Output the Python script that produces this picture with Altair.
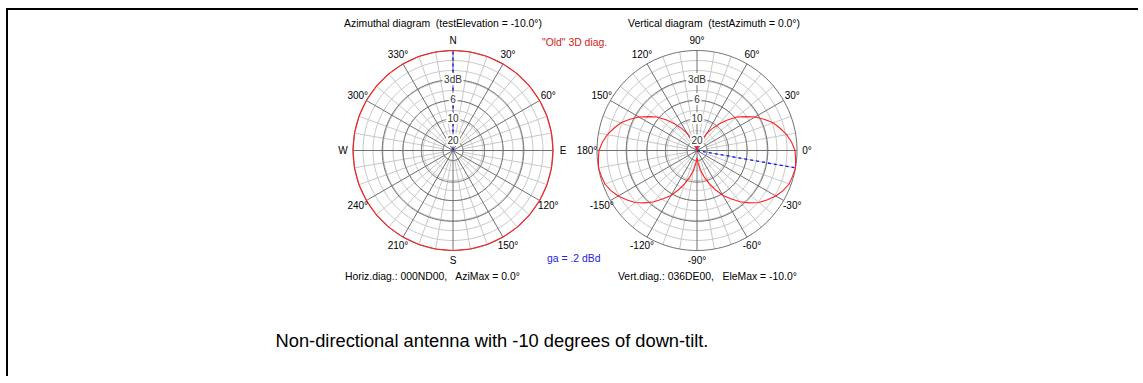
import math
import altair as alt
import pandas as pd

# ---- canvas and diagram geometry (pixels) ----
W, H = 1143, 376
R = 100.0                      # radius of the 0 dB ring
AZI_CX, AZI_CY = 453.0, 150.5  # azimuthal diagram centre
ELE_CX, ELE_CY = 697.0, 150.5  # vertical diagram centre
FONT = "Liberation Sans"
FRAME_RIGHT = 1138

# ---- diagram parameters ----
TEST_ELEVATION = -10.0
TEST_AZIMUTH = 0.0
AZI_MAX = 0.0
ELE_MAX = -10.0
GAIN_DBD = ".2"
HORIZ_CODE = "000ND00"
VERT_CODE = "036DE00"

# ---- grid ----
FINE_RINGS = [0.1, 0.2, 0.3, 0.4, 0.5, 0.6, 0.7, 0.8, 0.9]   # relative field strength
DB_RINGS = [0, 3, 6, 10, 20]                                  # dB below maximum
DB_RING_LABELS = ["", "3dB", "6", "10", "20"]
SPOKE_STEP = 10
MAJOR_SPOKE_STEP = 30
FINE_SPOKE_START = 0.1
RING_STEP_DEG = 2

# ---- azimuthal pattern (bearing deg, relative field strength) ----
AZI_DEG = [0, 10, 20, 30, 40, 50, 60, 70, 80, 90, 100, 110, 120, 130, 140, 150, 160, 170,
           180, 190, 200, 210, 220, 230, 240, 250, 260, 270, 280, 290, 300, 310, 320, 330,
           340, 350, 360]
AZI_REL = [1.0, 1.0, 1.0, 1.0, 1.0, 1.0, 1.0, 1.0, 1.0, 1.0, 1.0, 1.0, 1.0, 1.0, 1.0, 1.0,
           1.0, 1.0, 1.0, 1.0, 1.0, 1.0, 1.0, 1.0, 1.0, 1.0, 1.0, 1.0, 1.0, 1.0, 1.0, 1.0,
           1.0, 1.0, 1.0, 1.0, 1.0]

# ---- vertical pattern (angle deg counter-clockwise from 0°, relative field strength) ----
ELE_DEG = [-90, -85, -80, -75, -70, -65, -60, -55, -50, -45, -40, -35, -30, -25, -20, -15,
           -10, -5, 0, 5, 10, 15, 20, 25, 30, 35, 40, 45, 50, 55, 60, 65, 70, 75, 80, 85,
           90, 95, 100, 105, 110, 115, 120, 125, 130, 135, 140, 145, 150, 155, 160, 165,
           170, 175, 180, 185, 190, 195, 200, 205, 210, 215, 220, 225, 230, 235, 240, 245,
           250, 255, 260, 265, 270]
ELE_REL = [0.07, 0.13, 0.20, 0.27, 0.35, 0.43, 0.52, 0.59, 0.67, 0.74, 0.81, 0.86, 0.91,
           0.95, 0.98, 0.99, 1.00, 0.99, 0.98, 0.95, 0.91, 0.86, 0.81, 0.74, 0.67, 0.59,
           0.52, 0.43, 0.35, 0.27, 0.20, 0.13, 0.07, 0.03, 0.00, 0.05, 0.13, 0.05, 0.00,
           0.03, 0.07, 0.13, 0.20, 0.27, 0.35, 0.43, 0.52, 0.59, 0.67, 0.74, 0.81, 0.86,
           0.91, 0.95, 0.98, 0.99, 1.00, 0.99, 0.98, 0.95, 0.91, 0.86, 0.81, 0.74, 0.67,
           0.59, 0.52, 0.43, 0.35, 0.27, 0.20, 0.13, 0.07]

LIGHT = "#c8c8c8"
DARK = "#707070"
RED = "#ff2020"
BLUE = "#1010ff"


def azi_xy(bearing, r):
    a = math.radians(bearing)
    return AZI_CX + R * r * math.sin(a), AZI_CY - R * r * math.cos(a)


def ele_xy(angle, r):
    a = math.radians(angle)
    return ELE_CX + R * r * math.cos(a), ELE_CY - R * r * math.sin(a)


def db_to_rel(db):
    return 10 ** (-db / 20.0)


# rings, traced as closed polylines
ring_rows = []
rid = 0
for conv in (azi_xy, ele_xy):
    levels = [(a, "fine") for a in FINE_RINGS] + [(db_to_rel(d), "major") for d in DB_RINGS]
    for amp, kind in levels:
        for k, ang in enumerate(range(0, 361, RING_STEP_DEG)):
            x, y = conv(ang, amp)
            ring_rows.append({"x": x, "y": y, "i": k, "ring": rid, "kind": kind})
        rid += 1
rings = pd.DataFrame(ring_rows)

# spokes
spoke_rows = []
for conv in (azi_xy, ele_xy):
    for ang in range(0, 360, SPOKE_STEP):
        major = ang % MAJOR_SPOKE_STEP == 0
        r0 = 0.0 if major else FINE_SPOKE_START
        x1, y1 = conv(ang, r0)
        x2, y2 = conv(ang, 1.0)
        spoke_rows.append({"x": x1, "y": y1, "x2": x2, "y2": y2,
                           "kind": "major" if major else "fine"})
spokes = pd.DataFrame(spoke_rows)

# dB ring labels on the upward axis of each diagram
dbl_rows = []
for cx, cy in [(AZI_CX, AZI_CY), (ELE_CX, ELE_CY)]:
    for d, lab in zip(DB_RINGS, DB_RING_LABELS):
        if lab:
            dbl_rows.append({"x": cx, "y": cy - R * db_to_rel(d), "label": lab})
db_labels = pd.DataFrame(dbl_rows)

# angle labels
ang_rows = []
compass = {0: "N", 90: "E", 180: "S", 270: "W"}
for b in range(0, 360, MAJOR_SPOKE_STEP):
    x, y = azi_xy(b, 1.1)
    ang_rows.append({"x": x, "y": y, "label": compass.get(b, f"{b}°")})
for a in range(-150, 181, MAJOR_SPOKE_STEP):
    x, y = ele_xy(a, 1.1)
    ang_rows.append({"x": x, "y": y, "label": f"{a}°"})
angle_labels = pd.DataFrame(ang_rows)

# radiation patterns
pat_rows = []
for i, (b, v) in enumerate(zip(AZI_DEG, AZI_REL)):
    x, y = azi_xy(b, v)
    pat_rows.append({"x": x, "y": y, "i": i, "diag": "azi"})
for i, (a, v) in enumerate(zip(ELE_DEG, ELE_REL)):
    x, y = ele_xy(a, v)
    pat_rows.append({"x": x, "y": y, "i": i, "diag": "ele"})
patterns = pd.DataFrame(pat_rows)

# direction of maximum
mx = []
x2, y2 = azi_xy(AZI_MAX, 1.0)
mx.append({"x": AZI_CX, "y": AZI_CY, "x2": x2, "y2": y2})
x2, y2 = ele_xy(ELE_MAX, 1.0)
mx.append({"x": ELE_CX, "y": ELE_CY, "x2": x2, "y2": y2})
maxdir = pd.DataFrame(mx)

xs = alt.Scale(domain=[0, W], range=[0, W], zero=False, nice=False)
ys = alt.Scale(domain=[0, H], range=[0, H], zero=False, nice=False)


def X(f):
    return alt.X(f"{f}:Q", scale=xs, axis=None)


def Y(f):
    return alt.Y(f"{f}:Q", scale=ys, axis=None)


def ring_layer(kind, color):
    return alt.Chart(rings).transform_filter(alt.datum.kind == kind).mark_line(
        color=color, strokeWidth=1
    ).encode(x=X("x"), y=Y("y"), order="i:Q", detail="ring:N")


def spoke_layer(kind, color):
    return alt.Chart(spokes).transform_filter(alt.datum.kind == kind).mark_rule(
        color=color, strokeWidth=1
    ).encode(x=X("x"), y=Y("y"), x2="x2:Q", y2="y2:Q")


max_layer = alt.Chart(maxdir).mark_rule(color=BLUE, strokeWidth=1.3, strokeDash=[3, 3]).encode(
    x=X("x"), y=Y("y"), x2="x2:Q", y2="y2:Q")

pattern_layer = alt.Chart(patterns).mark_line(color=RED, strokeWidth=1.1).encode(
    x=X("x"), y=Y("y"), order="i:Q", detail="diag:N")

db_halo = alt.Chart(db_labels).mark_text(
    font=FONT, fontSize=10, stroke="white", strokeWidth=4, fill="white",
    align="center", baseline="middle").encode(x=X("x"), y=Y("y"), text="label:N")
db_text = alt.Chart(db_labels).mark_text(
    font=FONT, fontSize=10, color="#333333", align="center", baseline="middle").encode(
    x=X("x"), y=Y("y"), text="label:N")

ang_text = alt.Chart(angle_labels).mark_text(
    font=FONT, fontSize=10, color="black", align="center", baseline="middle").encode(
    x=X("x"), y=Y("y"), text="label:N")


def note(txt, x, y, color="black", size=10.4, align="left"):
    return alt.Chart(pd.DataFrame({"t": [txt]})).mark_text(
        font=FONT, fontSize=size, color=color, align=align, baseline="middle").encode(
        x=alt.value(x), y=alt.value(y), text="t:N")


NB = "\u00a0"
notes = [
    note(f"Azimuthal diagram{NB} (testElevation = {TEST_ELEVATION:.1f}°)", 443, 24, align="center"),
    note(f"Vertical diagram{NB} (testAzimuth = {TEST_AZIMUTH:.1f}°)", 714, 24, align="center"),
    note('"Old" 3D diag.', 542, 43, color="#cc2222"),
    note(f"ga = {GAIN_DBD} dBd", 547, 259, color="#2222dd"),
    note(f"Horiz.diag.: {HORIZ_CODE},{NB}{NB} AziMax = {AZI_MAX:.1f}°", 345, 277),
    note(f"Vert.diag.: {VERT_CODE},{NB}{NB} EleMax = {ELE_MAX:.1f}°", 618, 277),
    note("Non-directional antenna with -10 degrees of down-tilt.", 492, 342, size=18.3,
         align="center"),
]

# frame: top edge and left edge
frame = pd.DataFrame({"x": [6, 7], "y": [9, 8], "x2": [FRAME_RIGHT, 7], "y2": [9, H]})
frame_layer = alt.Chart(frame).mark_rule(color="black", strokeWidth=2).encode(
    x=X("x"), y=Y("y"), x2="x2:Q", y2="y2:Q")

chart = alt.layer(
    ring_layer("fine", LIGHT),
    spoke_layer("fine", LIGHT),
    ring_layer("major", DARK),
    spoke_layer("major", DARK),
    max_layer,
    pattern_layer,
    db_halo,
    db_text,
    ang_text,
    *notes,
    frame_layer,
).properties(
    width=W, height=H, padding=0, background="white",
    autosize=alt.AutoSizeParams(type="none"),
).configure_view(strokeWidth=0)

chart.save("out.html", embed_options={"renderer": "svg", "actions": False})
